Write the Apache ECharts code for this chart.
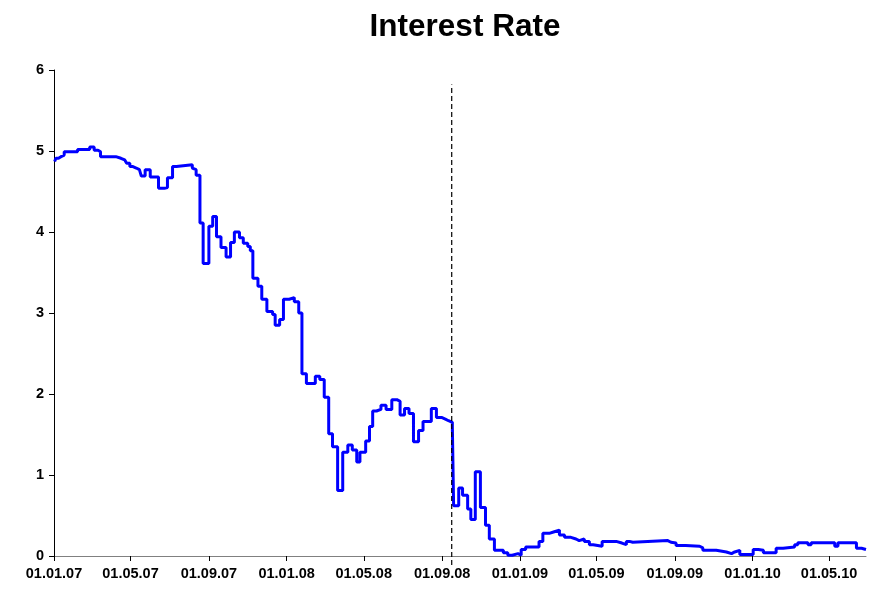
<!DOCTYPE html>
<html>
<head>
<meta charset="utf-8">
<title>Interest Rate</title>
<script src="https://cdn.jsdelivr.net/npm/echarts@6/dist/echarts.min.js"></script>
<style>
  html, body { margin: 0; padding: 0; background: #fff; }
  #chart { width: 869px; height: 590px; }
</style>
</head>
<body>
<div id="chart"></div>
<script>
// step points: value holds from date until the next date
const rateDates = [
  '2007-01-02', '2007-01-04', '2007-01-08', '2007-01-12', '2007-01-17', '2007-02-07', '2007-02-26', '2007-03-05',
  '2007-03-11', '2007-03-15', '2007-04-08', '2007-04-16', '2007-04-22', '2007-04-25', '2007-04-30', '2007-05-04',
  '2007-05-10', '2007-05-15', '2007-05-18', '2007-05-24', '2007-06-01', '2007-06-14', '2007-06-23', '2007-06-28',
  '2007-07-06', '2007-07-12', '2007-08-06', '2007-08-09', '2007-08-12', '2007-08-18', '2007-08-23', '2007-09-01',
  '2007-09-07', '2007-09-13', '2007-09-20', '2007-09-28', '2007-10-05', '2007-10-11', '2007-10-19', '2007-10-25',
  '2007-11-01', '2007-11-05', '2007-11-09', '2007-11-17', '2007-11-23', '2007-12-01', '2007-12-10', '2007-12-14',
  '2007-12-21', '2007-12-27', '2008-01-05', '2008-01-13', '2008-01-20', '2008-01-25', '2008-02-01', '2008-02-15',
  '2008-02-22', '2008-02-29', '2008-03-07', '2008-03-13', '2008-03-21', '2008-03-29', '2008-04-06', '2008-04-13',
  '2008-04-20', '2008-04-25', '2008-05-04', '2008-05-10', '2008-05-15', '2008-05-21', '2008-05-28', '2008-06-05',
  '2008-06-14', '2008-06-22', '2008-06-27', '2008-07-04', '2008-07-11', '2008-07-18', '2008-07-26', '2008-08-02',
  '2008-08-15', '2008-08-23', '2008-08-31', '2008-09-06', '2008-09-11', '2008-09-17', '2008-09-19', '2008-09-27',
  '2008-10-03', '2008-10-11', '2008-10-16', '2008-10-23', '2008-10-31', '2008-11-08', '2008-11-14', '2008-11-22',
  '2008-12-06', '2008-12-13', '2008-12-20', '2008-12-29', '2009-01-03', '2009-01-10', '2009-01-31', '2009-02-06',
  '2009-02-16', '2009-02-24', '2009-03-04', '2009-03-12', '2009-03-22', '2009-03-30', '2009-04-04', '2009-04-12',
  '2009-04-20', '2009-04-26', '2009-05-10', '2009-06-01', '2009-06-10', '2009-06-17', '2009-06-22', '2009-06-27',
  '2009-08-21', '2009-08-26', '2009-09-03', '2009-09-18', '2009-10-10', '2009-10-15', '2009-11-05', '2009-11-21',
  '2009-11-29', '2009-12-04', '2009-12-12', '2010-01-02', '2010-01-10', '2010-01-18', '2010-02-07', '2010-02-18',
  '2010-03-08', '2010-03-13', '2010-03-29', '2010-04-03', '2010-05-10', '2010-05-15', '2010-06-13', '2010-06-21',
  '2010-06-28'
];
const rateValues = [
  4.87, 4.91, 4.93, 4.95, 4.99, 5.02, 5.05, 5.01,
  4.99, 4.93, 4.91, 4.89, 4.87, 4.85, 4.81, 4.79,
  4.77, 4.76, 4.69, 4.77, 4.68, 4.54, 4.55, 4.67,
  4.81, 4.83, 4.79, 4.77, 4.70, 4.11, 3.61, 4.07,
  4.19, 3.94, 3.81, 3.69, 3.87, 4.00, 3.93, 3.86,
  3.82, 3.77, 3.43, 3.33, 3.17, 3.02, 2.98, 2.85,
  2.92, 3.17, 3.19, 3.14, 3.00, 2.25, 2.13, 2.22,
  2.18, 1.96, 1.51, 1.35, 0.81, 1.28, 1.37, 1.31,
  1.16, 1.28, 1.42, 1.60, 1.79, 1.81, 1.86, 1.81,
  1.93, 1.91, 1.74, 1.82, 1.76, 1.41, 1.55, 1.66,
  1.82, 1.71, 1.69, 1.67, 1.65, 1.60, 0.62, 0.84,
  0.75, 0.58, 0.45, 1.04, 0.60, 0.38, 0.21, 0.07,
  0.04, 0.01, 0.03, 0.01, 0.08, 0.11, 0.18, 0.28,
  0.30, 0.32, 0.26, 0.23, 0.21, 0.19, 0.21, 0.18,
  0.14, 0.12, 0.18, 0.16, 0.14, 0.18, 0.17, 0.19,
  0.17, 0.16, 0.13, 0.12, 0.10, 0.07, 0.05, 0.03,
  0.05, 0.07, 0.02, 0.08, 0.07, 0.04, 0.095, 0.11,
  0.14, 0.165, 0.14, 0.165, 0.12, 0.165, 0.095, 0.08,
  0.08
];
const tickDates = [
  '2007-01-01', '2007-05-01', '2007-09-01', '2008-01-01', '2008-05-01', '2008-09-01',
  '2009-01-01', '2009-05-01', '2009-09-01', '2010-01-01', '2010-05-01'
];
const axisStart = '2007-01-01';
const axisEnd = '2010-06-28';
// dashed marker (event date) and its vertical extent
const eventDate = '2008-09-16';
const eventRange = [-0.11, 5.82];

const toTime = (s) => {
  const p = s.split('-');
  return new Date(+p[0], +p[1] - 1, +p[2]).getTime();
};
const pad = (n) => (n < 10 ? '0' : '') + n;
const fmt = (v) => {
  const d = new Date(v);
  return pad(d.getDate()) + '.' + pad(d.getMonth() + 1) + '.' + pad(d.getFullYear() % 100);
};

const chart = echarts.init(document.getElementById('chart'), null, { renderer: 'canvas' });
const font = 'Arial, "Liberation Sans", sans-serif';
const ticks = tickDates.map(toTime);

const option = {
  animation: false,
  backgroundColor: '#ffffff',
  title: {
    text: 'Interest Rate',
    left: 460,
    textAlign: 'center',
    top: 6,
    textStyle: { fontFamily: font, fontSize: 31.5, fontWeight: 'bold', color: '#000' }
  },
  grid: { left: 54, right: 3, top: 70, bottom: 34, containLabel: false },
  xAxis: {
    type: 'value',
    min: toTime(axisStart),
    max: toTime(axisEnd),
    axisLine: { show: true, lineStyle: { color: '#808080', width: 1 } },
    axisTick: { show: true, length: 5, customValues: ticks, lineStyle: { color: '#000' } },
    axisLabel: {
      customValues: ticks,
      formatter: fmt,
      margin: 10,
      fontFamily: font, fontSize: 14.5, fontWeight: 'bold', color: '#000'
    },
    splitLine: { show: false }
  },
  yAxis: {
    type: 'value',
    min: 0,
    max: 6,
    interval: 1,
    axisLine: { show: true, lineStyle: { color: '#000', width: 1 } },
    axisTick: { show: true, length: 5, lineStyle: { color: '#000' } },
    axisLabel: { margin: 10, fontFamily: font, fontSize: 14.5, fontWeight: 'bold', color: '#000' },
    splitLine: { show: false }
  },
  series: [
    {
      name: 'Interest Rate',
      type: 'line',
      step: 'end',
      showSymbol: false,
      data: rateDates.map((d, i) => [toTime(d), rateValues[i]]),
      lineStyle: { color: '#0000ff', width: 3 },
      itemStyle: { color: '#0000ff' }
    },
    {
      name: 'event',
      type: 'line',
      showSymbol: false,
      clip: false,
      data: eventRange.map((v) => [toTime(eventDate), v]),
      lineStyle: { color: '#000', width: 1.2, type: [5, 3] }
    }
  ]
};
chart.setOption(option);
</script>
</body>
</html>
